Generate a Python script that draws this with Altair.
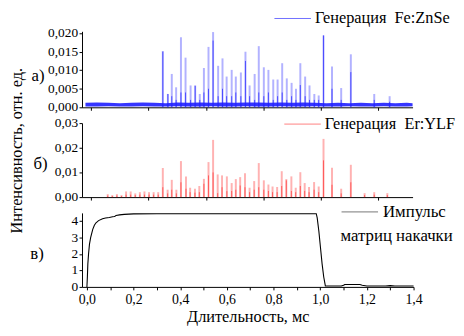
import altair as alt
import pandas as pd

# ---- data ----
fe_t = [0.312,0.334,0.351,0.370,0.391,0.411,0.433,0.453,0.473,0.491,0.511,0.531,0.553,0.572,0.590,
        0.612,0.630,0.652,0.672,0.690,0.712,0.730,0.752,0.772,0.793,0.812,0.832,0.852,0.873,0.892,
        0.911,0.932,0.951,0.972,0.991,1.012,1.049,1.089,1.131,1.233,1.300]
fe_peak = [0.0152,0.0036,0.0090,0.0054,0.0189,0.0134,0.0059,0.0059,0.0036,0.0106,0.0163,0.0203,0.0112,0.0132,0.0083,
           0.0101,0.0083,0.0094,0.0150,0.0059,0.0090,0.0165,0.0108,0.0101,0.0075,0.0075,0.0119,0.0078,0.0066,0.0050,
           0.0119,0.0083,0.0059,0.0036,0.0032,0.0194,0.0110,0.0052,0.0143,0.0036,0.0030]
fe_core = [0.0150,0.0036,0.0030,0.0020,0.0040,0.0040,0.0020,0.0058,0.0020,0.0040,0.0050,0.0180,0.0030,0.0050,0.0030,
           0.0030,0.0040,0.0030,0.0125,0.0030,0.0020,0.0040,0.0030,0.0040,0.0020,0.0030,0.0040,0.0020,0.0030,0.0020,
           0.0060,0.0030,0.0020,0.0020,0.0020,0.0194,0.0050,0.0020,0.0095,0.0020,0.0015]

noise_t = [-0.025,0.025,0.075,0.125,0.175,0.225,0.275,0.325,0.375,0.425,0.475,0.525,0.575,0.625,0.675,
           0.725,0.775,0.825,0.875,0.925,0.975,1.025,1.075,1.125,1.175,1.225,1.275,1.325,1.375,1.400]
noise_lo = [0.0002,0.0002,0.0003,0.0002,0.0002,0.0003,0.0002,0.0002,0.0003,0.0002,0.0002,0.0003,0.0002,0.0002,0.0003,
            0.0002,0.0002,0.0003,0.0002,0.0002,0.0003,0.0002,0.0002,0.0003,0.0002,0.0002,0.0003,0.0002,0.0002,0.0003]
noise_hi = [0.0012,0.0013,0.0012,0.0011,0.0012,0.0013,0.0012,0.0011,0.0013,0.0012,0.0013,0.0012,0.0013,0.0012,0.0013,
            0.0013,0.0012,0.0013,0.0012,0.0013,0.0012,0.0011,0.0012,0.0011,0.0012,0.0011,0.0012,0.0011,0.0012,0.0011]

er_t = [0.072,0.092,0.112,0.132,0.152,0.172,0.192,0.212,0.232,0.252,0.272,0.292,
        0.312,0.333,0.351,0.371,0.391,0.413,0.431,0.452,0.471,0.491,0.511,0.531,0.551,0.570,0.591,
        0.612,0.630,0.649,0.670,0.690,0.710,0.730,0.752,0.772,0.790,0.810,0.830,0.850,0.872,0.891,
        0.911,0.930,0.949,0.971,0.991,1.012,1.049,1.089,1.131,1.191,1.233,1.290]
er_peak = [0.0012,0.0008,0.0012,0.0008,0.0023,0.0023,0.0015,0.0020,0.0023,0.0020,0.0020,0.0020,
           0.0118,0.0030,0.0070,0.0030,0.0146,0.0084,0.0038,0.0034,0.0045,0.0074,0.0142,0.0232,0.0092,0.0088,0.0084,
           0.0057,0.0073,0.0081,0.0097,0.0038,0.0065,0.0138,0.0068,0.0051,0.0043,0.0041,0.0105,0.0073,0.0084,0.0038,
           0.0101,0.0057,0.0041,0.0061,0.0043,0.0236,0.0119,0.0034,0.0131,0.0016,0.0020,0.0016]
er_core = [0.0006,0.0004,0.0006,0.0004,0.0010,0.0010,0.0008,0.0010,0.0010,0.0010,0.0010,0.0010,
           0.0040,0.0015,0.0030,0.0015,0.0060,0.0034,0.0020,0.0018,0.0020,0.0054,0.0088,0.0100,0.0016,0.0040,0.0024,
           0.0025,0.0030,0.0047,0.0040,0.0020,0.0030,0.0040,0.0030,0.0025,0.0020,0.0020,0.0045,0.0068,0.0025,0.0020,
           0.0045,0.0025,0.0020,0.0030,0.0020,0.0149,0.0050,0.0015,0.0060,0.0008,0.0010,0.0008]

pump_t = [0.0,0.002,0.004,0.007,0.011,0.016,0.025,0.032,0.039,0.05,0.067,0.08,0.096,0.11,0.117,0.12,0.125,
          0.14,0.16,0.2,0.3,0.5,0.7,0.9,0.983,0.987,0.994,1.001,1.008,1.015,1.022,1.03,1.06,1.09,1.10,
          1.105,1.17,1.18,1.2,1.28,1.3,1.32,1.4]
pump_v = [0.0,0.6,1.4,2.0,2.6,3.0,3.5,3.75,3.9,4.03,4.14,4.19,4.22,4.26,4.28,4.3,4.34,
          4.38,4.41,4.44,4.45,4.45,4.45,4.45,4.45,4.2,3.4,2.4,1.4,0.6,0.06,0.05,0.05,0.05,0.1,
          0.15,0.15,0.1,0.05,0.05,0.08,0.05,0.05]

# tick values and labels
fe_ticks = [0, 0.005, 0.01, 0.015, 0.02]
fe_labels = ["0,000", "0,005", "0,010", "0,015", "0,020"]
er_ticks = [0, 0.01, 0.02, 0.03]
er_labels = ["0,00", "0,01", "0,02", "0,03"]
p_ticks = [0, 1, 2, 3, 4]
p_labels = ["0", "1", "2", "3", "4"]

legend_fe = "Генерация\u00a0 Fe:ZnSe"
legend_er = "Генерация\u00a0 Er:YLF"
legend_p1 = "Импульс"
legend_p2 = "матриц накачки"
y_title = "Интенсивность, отн. ед."
x_title = "Длительность, мс"

FONT = "Liberation Serif"

fe = pd.DataFrame({"t": fe_t, "peak": fe_peak, "core": fe_core})
nz = pd.DataFrame({"t": noise_t, "lo": noise_lo, "hi": noise_hi})
er = pd.DataFrame({"t": er_t, "peak": er_peak, "core": er_core})
pump = pd.DataFrame({"t": pump_t, "v": pump_v})
one = pd.DataFrame({"a": [0]})

AX = dict(tickSize=3, domainColor="black", tickColor="black", labelFont=FONT,
          labelColor="black", labelOverlap=False, labelFlush=False)

def xtop():
    return alt.X("t:Q", scale=alt.Scale(domain=[-0.04, 1.4], nice=False, zero=False),
                 axis=alt.Axis(values=[0, 0.25, 0.5, 0.75, 1.0, 1.25], labels=False, title=None, **AX))

def text(x, y, s, size=16.5, align="left", angle=0):
    return alt.Chart(one).mark_text(font=FONT, fontSize=size, align=align, baseline="middle",
                                     angle=angle, color="black").encode(
        x=alt.value(x), y=alt.value(y), text=alt.value(s))

def legend_rule(x1, x2, y, color):
    return alt.Chart(one).mark_rule(color=color, strokeWidth=1).encode(
        x=alt.value(x1), x2=alt.value(x2), y=alt.value(y))

def yaxis(field, domain, ticks):
    return alt.Y(field, scale=alt.Scale(domain=domain, nice=False),
                 axis=alt.Axis(values=ticks, labels=False, title=None, **AX))

def ylabels(ticks, labels, domain):
    df = pd.DataFrame({"v": ticks, "lab": labels})
    return alt.Chart(df).mark_text(font=FONT, fontSize=13.5, align="right", baseline="middle",
                                   color="black").encode(
        x=alt.value(-4), y=yaxis("v:Q", domain, ticks), text="lab:N")

# ---- top panel ----
FE_DOM = [0, 0.0205]
noise = alt.Chart(nz).mark_area(color="#1f1fff", opacity=0.9).encode(
    x=xtop(), y=yaxis("lo:Q", FE_DOM, fe_ticks), y2="hi:Q")
fe_light = alt.Chart(fe).mark_rule(color="#0000ff", opacity=0.3, strokeWidth=2).encode(
    x=xtop(), y=yaxis("peak:Q", FE_DOM, fe_ticks), y2=alt.datum(0))
fe_dark = alt.Chart(fe).mark_rule(color="#2020ff", opacity=0.7, strokeWidth=1).encode(
    x=xtop(), y=yaxis("core:Q", FE_DOM, fe_ticks), y2=alt.datum(0))
top = alt.layer(
    fe_light, fe_dark, noise, ylabels(fe_ticks, fe_labels, FE_DOM),
    legend_rule(195, 232, -13, "#7070ff"),
    text(236, -13, legend_fe),
    text(-44.5, 45, "а)", align="center", size=17),
).properties(width=335, height=77)

# ---- middle panel ----
ER_DOM = [0, 0.03]
er_light = alt.Chart(er).mark_rule(color="#ff0000", opacity=0.3, strokeWidth=2).encode(
    x=xtop(), y=yaxis("peak:Q", ER_DOM, er_ticks), y2=alt.datum(0))
er_dark = alt.Chart(er).mark_rule(color="#ff2020", opacity=0.6, strokeWidth=1).encode(
    x=xtop(), y=yaxis("core:Q", ER_DOM, er_ticks), y2=alt.datum(0))
mid = alt.layer(
    er_light, er_dark, ylabels(er_ticks, er_labels, ER_DOM),
    legend_rule(205, 242, 1, "#ff8080"),
    text(246, 1, legend_er),
    text(-42, 42, "б)", align="center", size=17),
    text(-66, 28, y_title, size=16.5, align="center", angle=270),
).properties(width=335, height=75)

# ---- bottom panel ----
P_DOM = [0, 4.5]
xb = alt.X("t:Q", scale=alt.Scale(domain=[-0.021, 1.4], nice=False, zero=False),
           axis=alt.Axis(values=[0, 0.1, 0.2, 0.3, 0.4, 0.5, 0.6, 0.7, 0.8, 0.9, 1.0, 1.1, 1.2, 1.3, 1.4],
                         labelExpr="round(datum.value*10) % 2 == 1 ? '' : replace(format(datum.value, '.1f'), '.', ',')",
                         labelFontSize=14,
                         title=x_title, titleFont=FONT, titleFontSize=16.5, titleFontWeight="normal",
                         titleColor="black", titlePadding=2.5, labelPadding=3, **AX))
pline = alt.Chart(pump).mark_line(color="black", strokeWidth=1.1).encode(
    x=xb, y=yaxis("v:Q", P_DOM, p_ticks))
bot = alt.layer(
    pline, ylabels(p_ticks, p_labels, P_DOM),
    legend_rule(263, 300, -1, "#777777"),
    text(305, -1, legend_p1, size=17),
    text(262, 23, legend_p2, size=17),
    text(-45.5, 42, "в)", align="center", size=17),
).properties(width=336, height=75)

chart = alt.vconcat(top, mid, bot, spacing=16, bounds="flush").properties(
    padding={"left": 0, "top": 0.5, "right": 0, "bottom": 0}
).configure_view(stroke=None).configure_axis(grid=False)

chart.save("out.html", embed_options={"renderer": "svg", "actions": False})
